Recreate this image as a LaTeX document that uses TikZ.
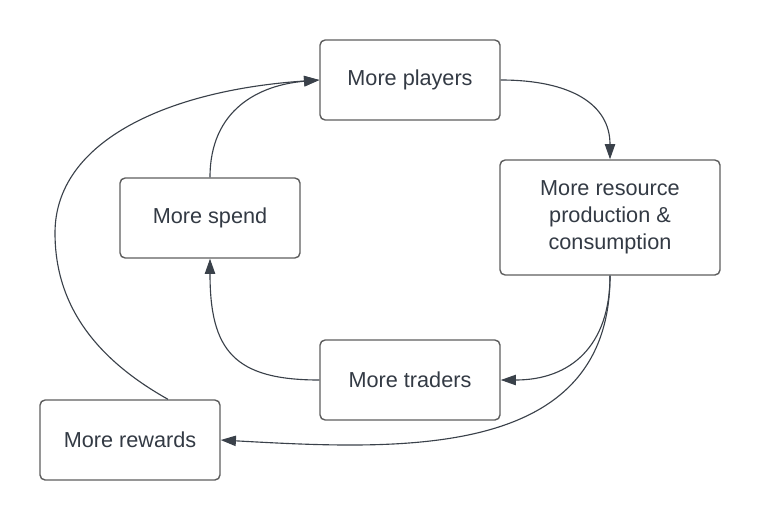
\documentclass[tikz,border=0pt]{standalone}
\usepackage{fontspec}
\setmainfont{Liberation Sans}
\usetikzlibrary{arrows.meta,positioning}
\definecolor{boxline}{HTML}{5E5E5E}
\definecolor{ink}{HTML}{333A44}
\definecolor{linkline}{HTML}{3A414A}

\begin{document}
\begin{tikzpicture}[x=0.025cm,y=-0.025cm,
  loopbox/.style={draw=boxline,line width=1pt,rounded corners=0.13cm,fill=white,text=ink,align=center,
    minimum width=4.5cm,minimum height=2cm,inner sep=0pt,font=\fontsize{15.4}{19.2}\selectfont},
  link/.style={draw=linkline,line width=0.8pt,-{Triangle[length=0.38cm,width=0.26cm]}}]
\useasboundingbox (0,0) rectangle (760,520);
\node[loopbox] (players) at (410,80) {More players};
\node[loopbox,minimum width=5.5cm,minimum height=2.875cm] (resource) at (610,217.5) {More resource\\production \&\\consumption};
\node[loopbox] (spend) at (210,218) {More spend};
\node[loopbox] (traders) at (410,380) {More traders};
\node[loopbox] (rewards) at (130,440) {More rewards};
% loop connectors
\draw[link] (players.east) .. controls +(70,0) and +(0,-55) .. (resource.north);
\draw[link] (resource.south) .. controls +(0,70) and +(70,0) .. (traders.east);
\draw[link] (resource.south) .. controls +(0,185) and +(180,10) .. (rewards.east);
\draw[link] (traders.west) .. controls +(-85,0) and +(0,92) .. (spend.south);
\draw[link] (spend.north) .. controls +(0,-68) and +(-60,5) .. (players.west);
\coordinate (farleft) at (55,233);
\draw[link] (rewards.47) .. controls (80,350) and (55,290) .. (farleft) .. controls (55,140) and (170,90) .. (players.west);
\end{tikzpicture}
\end{document}
